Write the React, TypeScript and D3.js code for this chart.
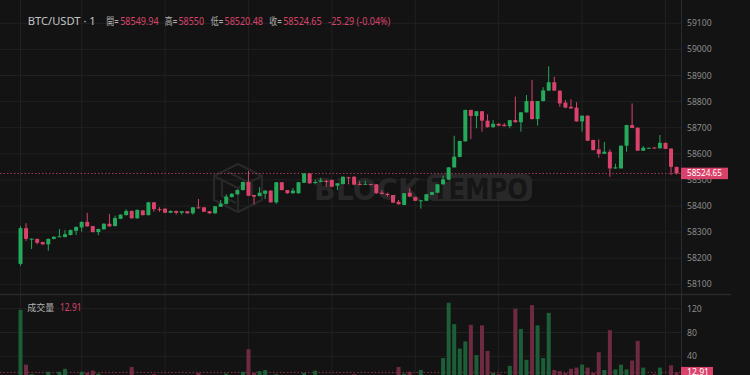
import React from "react";
import * as d3 from "d3";

const opens = [58178,58315,58272,58274,58262,58253,58274,58282,58281,58289,58305,58318,58339,58323,58300,58311,58332,58323,58351,58365,58381,58353,58383,58365,58414,58388,58390,58374,58381,58374,58380,58372,58395,58395,58380,58372,58397,58408,58434,58445,58461,58492,58442,58438,58447,58459,58414,58491,58461,58449,58449,58489,58525,58488,58493,58496,58500,58478,58484,58510,58512,58484,58483,58484,58483,58451,58447,58442,58416,58404,58451,58434,58420,58420,58443,58451,58483,58501,58548,58588,58648,58768,58745,58763,58727,58702,58715,58711,58706,58729,58721,58759,58802,58733,58802,58842,58874,58842,58796,58780,58777,58724,58746,58653,58617,58600,58608,58544,58544,58631,58710,58700,58612,58621,58624,58621,58642,58620,58549.94];
const highs = [58323,58334,58276,58275,58263,58275,58284,58312,58308,58310,58321,58341,58374,58324,58313,58334,58370,58363,58368,58387,58383,58387,58385,58416,58415,58395,58390,58383,58382,58381,58381,58396,58427,58396,58381,58400,58423,58445,58449,58463,58494,58534,58443,58472,58460,58460,58492,58492,58461,58469,58492,58526,58526,58502,58508,58500,58501,58488,58514,58512,58514,58495,58497,58485,58484,58461,58451,58442,58423,58450,58468,58436,58423,58446,58454,58484,58516,58549,58669,58650,58769,58769,58764,58764,58751,58729,58717,58718,58730,58819,58760,58825,58883,58803,58855,58935,58895,58843,58806,58809,58798,58747,58747,58654,58655,58645,58617,58562,58632,58711,58793,58701,58630,58624,58625,58672,58643,58621,58550];
const lows = [58171,58266,58235,58253,58252,58229,58272,58282,58280,58287,58289,58302,58321,58299,58288,58309,58321,58322,58350,58364,58351,58351,58364,58364,58378,58378,58373,58373,58367,58367,58370,58367,58390,58377,58370,58370,58396,58406,58433,58443,58460,58438,58406,58437,58427,58413,58408,58460,58447,58447,58447,58488,58485,58483,58491,58474,58473,58461,58483,58483,58480,58480,58482,58480,58447,58445,58436,58411,58405,58403,58434,58419,58390,58419,58442,58450,58482,58500,58547,58587,58646,58656,58698,58685,58700,58700,58706,58705,58698,58719,58685,58757,58732,58708,58801,58841,58841,58780,58775,58773,58723,58685,58649,58613,58585,58599,58512,58543,58544,58608,58698,58611,58611,58620,58620,58620,58618,58519,58520.48];
const closes = [58315,58274,58275,58259,58253,58274,58282,58284,58292,58308,58320,58339,58322,58300,58312,58332,58322,58354,58367,58381,58353,58385,58365,58414,58388,58385,58374,58381,58374,58380,58372,58395,58392,58378,58372,58399,58409,58436,58447,58461,58492,58439,58436,58451,58459,58414,58491,58461,58449,58459,58491,58525,58487,58492,58498,58492,58474,58487,58512,58507,58482,58482,58485,58482,58449,58446,58442,58413,58407,58449,58436,58420,58422,58445,58453,58483,58502,58548,58589,58649,58768,58745,58763,58727,58702,58715,58708,58706,58729,58721,58759,58802,58733,58802,58843,58874,58842,58793,58777,58774,58724,58746,58650,58614,58600,58608,58544,58548,58631,58710,58699,58612,58623,58623,58622,58642,58619,58550,58524.65];
const volumes = [118,26,10,5,4,14,5,14,19,6,5,14,12,16,11,5,6,7,5,6,22,5,4,6,10,4,5,4,3,4,4,5,12,5,4,6,5,11,5,6,14,52,12,15,17,6,10,5,4,5,6,12,5,16,5,4,6,5,6,4,10,5,4,3,7,5,6,8,22,11,14,6,17,7,6,8,37,130,94,53,65,93,42,92,49,12,10,6,24,120,86,34,126,92,37,113,17,15,12,19,21,26,21,12,47,17,84,18,26,18,33,66,21,5,10,21,6,25,12.91];

const priceTicks = [58100,58200,58300,58400,58500,58600,58700,58800,58900,59000,59100];
const volumeTicks = [40,80,120];
const timeGridIdx = [0,11,26,41,56,71,86,101,116];

const legendTitle = "BTC/USDT · 1";
const legendKeys = ["開=", "高=", "低=", "收="];
const legendValues = ["58549.94", "58550", "58520.48", "58524.65"];
const legendChange = "-25.29 (-0.04%)";
const volLabel = "成交量";
const lastPrice = 58524.65;
const lastVolume = 12.91;

const UP = "#25a95b";
const DOWN = "#d9436b";
const UPV = "#1c5e37";
const DOWNV = "#6e2a40";
const BG = "#131313";
const GRID = "#212121";
const FONT = "'Noto Sans', 'Noto Sans CJK TC', sans-serif";

export default function App() {
  const W = 750, H = 375;
  const n = opens.length;
  const x = d3.scaleLinear().domain([0, n - 1]).range([20.5, 676.6]);
  const y = d3.scaleLinear().domain([58100, 59100]).range([284.3, 23.3]);
  const yv = d3.scaleLinear().domain([0, 120]).range([380.1, 308.7]);
  const axisX = 681;
  const sepY = 294;
  const bw = 4;

  const keyPos = [[106.3, 12.5], [164.7, 12.5], [210.7, 12.5], [269.3, 12.5]];
  const valPos = [[120.2, 38.5], [178.5, 25.5], [224.5, 38.5], [283.2, 38.5]];
  const axisFont = 8.6;

  return (
    <div style={{ position: "absolute", left: 0, top: 0, width: W, height: H, background: BG }}>
      <svg width={W} height={H} style={{ display: "block", fontFamily: FONT }}>
        <defs>
          <clipPath id="pricePane"><rect x={0} y={0} width={axisX} height={sepY} /></clipPath>
          <clipPath id="volPane"><rect x={0} y={sepY + 1} width={axisX} height={H - sepY} /></clipPath>
        </defs>
        <rect x={0} y={0} width={W} height={H} fill={BG} />
        {priceTicks.map((t) => (
          <line key={"pg" + t} x1={0} x2={axisX} y1={y(t)} y2={y(t)} stroke={GRID} strokeWidth={1} />
        ))}
        {volumeTicks.map((t) => (
          <line key={"vg" + t} x1={0} x2={axisX} y1={yv(t)} y2={yv(t)} stroke={GRID} strokeWidth={1} />
        ))}
        {timeGridIdx.map((i) => (
          <line key={"tg" + i} x1={x(i)} x2={x(i)} y1={0} y2={H} stroke={GRID} strokeWidth={1} />
        ))}
        <g>
          <g fill="none" stroke="#282828" strokeWidth={2.2}>
            <polygon points="238,164 262,176 262,200 238,212 214,200 214,176" />
            <polyline points="214,176 238,188 262,176" />
            <line x1={238} y1={188} x2={238} y2={212} />
            <polyline points="222,180 222,196 236,203" />
            <polyline points="228,172 252,184 252,196" />
          </g>
          <text x={314} y={200} fontSize={31} fontWeight={700} fill="#272727" fontFamily="'DejaVu Sans', sans-serif" textLength={106} lengthAdjust="spacingAndGlyphs">BLOCK</text>
          <rect x={427} y={174} width={105} height={27} rx={7} fill="#282828" />
          <text x={432} y={199} fontSize={29} fontWeight={700} fill="#161616" fontFamily="'DejaVu Sans', sans-serif" textLength={96} lengthAdjust="spacingAndGlyphs">TEMPO</text>
        </g>
        <line x1={0} x2={axisX} y1={y(lastPrice)} y2={y(lastPrice)} stroke={DOWN} strokeOpacity={0.75} strokeDasharray="1.5,2" />
        <g clipPath="url(#pricePane)">
          {opens.map((o, i) => {
            const c = closes[i];
            const up = c >= o;
            const col = up ? UP : DOWN;
            const top = y(Math.max(o, c));
            const bot = y(Math.min(o, c));
            const cx = x(i);
            return (
              <g key={"c" + i}>
                <line x1={cx} x2={cx} y1={y(highs[i])} y2={y(lows[i])} stroke={col} strokeWidth={1} />
                <rect x={cx - bw / 2} y={top} width={bw} height={Math.max(1, bot - top)} fill={col} />
              </g>
            );
          })}
        </g>
        <line x1={0} x2={axisX} y1={yv(lastVolume)} y2={yv(lastVolume)} stroke={DOWN} strokeOpacity={0.6} strokeDasharray="1.5,2" />
        <g clipPath="url(#volPane)">
          {volumes.map((v, i) => {
            const up = closes[i] >= opens[i];
            return (
              <rect key={"v" + i} x={x(i) - bw / 2} y={yv(v)} width={bw} height={yv(0) - yv(v)} fill={up ? UPV : DOWNV} />
            );
          })}
        </g>
        <line x1={0} x2={731} y1={sepY + 0.5} y2={sepY + 0.5} stroke="#2a2a2a" strokeWidth={1.5} />
        <line x1={axisX + 0.5} x2={axisX + 0.5} y1={0} y2={H} stroke="#262a36" strokeWidth={1} />
        {priceTicks.map((t) => (
          <text key={"pt" + t} x={687} y={y(t)} dy="0.35em" fontSize={axisFont} fill="#8c8c8c">{t}</text>
        ))}
        {volumeTicks.map((t) => (
          <text key={"vt" + t} x={687} y={yv(t)} dy="0.35em" fontSize={axisFont} fill="#8c8c8c">{t}</text>
        ))}
        <rect x={axisX} y={y(lastPrice) - 5.8} width={47} height={11.5} fill={DOWN} />
        <text x={687} y={y(lastPrice)} dy="0.35em" fontSize={axisFont} fill="#ffffff" textLength={35} lengthAdjust="spacingAndGlyphs">{lastPrice.toFixed(2)}</text>
        <rect x={axisX} y={yv(lastVolume) - 5.5} width={32} height={11.5} fill={DOWN} />
        <text x={687} y={yv(lastVolume)} dy="0.35em" fontSize={axisFont} fill="#ffffff">{lastVolume}</text>
        <text y={21} dy="0.35em" fontSize={10}>
          <tspan x={27.7} fontSize={11.5} fill="#c4c4c4" textLength={68} lengthAdjust="spacingAndGlyphs">{legendTitle}</tspan>
          {legendKeys.map((k, i) => (
            <React.Fragment key={"lg" + i}>
              <tspan x={keyPos[i][0]} fill="#b0b0b0" textLength={keyPos[i][1]} lengthAdjust="spacingAndGlyphs">{k}</tspan>
              <tspan x={valPos[i][0]} fill={DOWN} textLength={valPos[i][1]} lengthAdjust="spacingAndGlyphs">{legendValues[i]}</tspan>
            </React.Fragment>
          ))}
          <tspan x={328.3} fill={DOWN} textLength={62} lengthAdjust="spacingAndGlyphs">{legendChange}</tspan>
        </text>
        <text y={305.7} dy="0.35em">
          <tspan x={27.3} fontSize={9} fill="#b0b0b0" textLength={27} lengthAdjust="spacingAndGlyphs">{volLabel}</tspan>
          <tspan x={60} fontSize={10} fill={DOWN} textLength={21.5} lengthAdjust="spacingAndGlyphs">{lastVolume}</tspan>
        </text>
      </svg>
    </div>
  );
}
